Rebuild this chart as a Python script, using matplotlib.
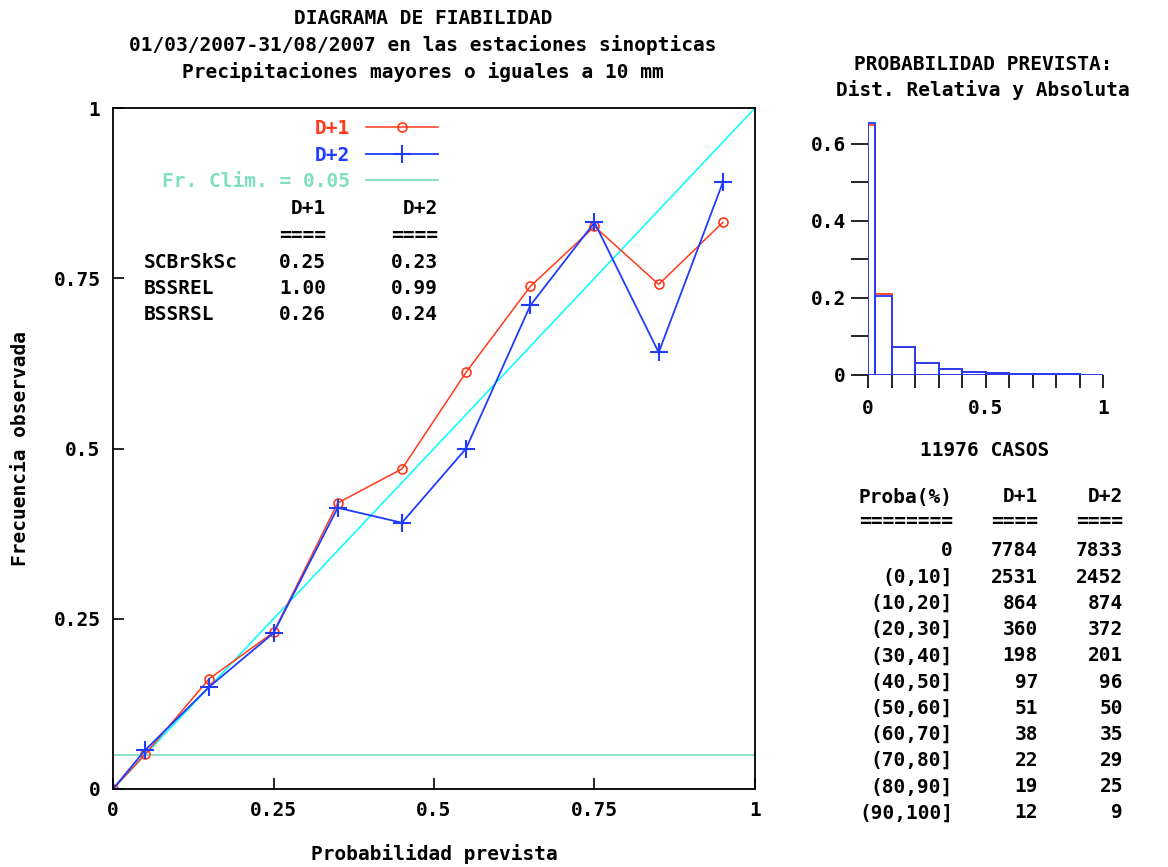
import numpy as np
import matplotlib
matplotlib.use("Agg")
import matplotlib.pyplot as plt
from matplotlib.ticker import MultipleLocator

plt.rcParams['font.family'] = ['DejaVu Sans Mono']
plt.rcParams['font.weight'] = 'bold'
plt.rcParams['axes.labelweight'] = 'bold'

# reliability diagram data
prob_centers = [0, 0.05, 0.15, 0.25, 0.35, 0.45, 0.55, 0.65, 0.75, 0.85, 0.95]
obs_d1 = [0, 0.051, 0.162, 0.23, 0.42, 0.47, 0.612, 0.738, 0.826, 0.741, 0.832]
obs_d2 = [0, 0.057, 0.15, 0.229, 0.413, 0.391, 0.50, 0.71, 0.832, 0.641, 0.891]
clim_freq = 0.05

score_names = ['SCBrSkSc', 'BSSREL', 'BSSRSL']
scores_d1 = ['0.25', '1.00', '0.26']
scores_d2 = ['0.23', '0.99', '0.24']

# forecast distribution
bin_labels = ['0', '(0,10]', '(10,20]', '(20,30]', '(30,40]', '(40,50]',
              '(50,60]', '(60,70]', '(70,80]', '(80,90]', '(90,100]']
bin_edges = [0, 0.03, 0.1, 0.2, 0.3, 0.4, 0.5, 0.6, 0.7, 0.8, 0.9, 1.0]
counts_d1 = [7784, 2531, 864, 360, 198, 97, 51, 38, 22, 19, 12]
counts_d2 = [7833, 2452, 874, 372, 201, 96, 50, 35, 29, 25, 9]
n_cases = 11976

RED = '#ff3a1a'
BLUE = '#1f3cff'
CLIM = '#7fdfc3'
FS = 14

W, H = 1168, 867
fig = plt.figure(figsize=(W / 100, H / 100), dpi=100)


def fx(px):
    return px / W


def fy(py):
    return 1 - py / H


# main reliability axes
ax = fig.add_axes([fx(113), fy(789), fx(755) - fx(113), fy(108) - fy(789)])
ax.plot([0, 1], [0, 1], color='cyan', lw=1.1)
ax.axhline(clim_freq, color=CLIM, lw=1.3, label='Fr. Clim. = %.2f' % clim_freq)
ax.plot(prob_centers, obs_d1, color=RED, lw=1.1, marker='o', ms=6.5,
        mfc='none', mew=1.2, label='D+1')
ax.plot(prob_centers, obs_d2, color=BLUE, lw=1.3, marker='+', ms=13,
        mew=1.5, label='D+2')
ax.set_xlim(0, 1)
ax.set_ylim(0, 1)
ticks = [0, 0.25, 0.5, 0.75, 1]
ax.set_xticks(ticks, ['0', '0.25', '0.5', '0.75', '1'])
ax.set_yticks(ticks, ['0', '0.25', '0.5', '0.75', '1'])
ax.tick_params(direction='in', length=8, width=1.2, labelsize=FS, pad=9)
for s in ax.spines.values():
    s.set_linewidth(1.3)
ax.set_xlabel('Probabilidad prevista', fontsize=FS, labelpad=17)
ax.set_ylabel('Frecuencia observada', fontsize=FS, labelpad=17)

h, l = ax.get_legend_handles_labels()
order = [1, 2, 0]
leg = fig.legend([h[i] for i in order], [l[i] for i in order],
                 loc='upper right', bbox_to_anchor=(fx(438), fy(119)),
                 frameon=False, markerfirst=False, numpoints=1,
                 handlelength=3.7, handletextpad=0.85, labelspacing=0.39,
                 borderpad=0, borderaxespad=0, fontsize=FS,
                 labelcolor='linecolor')

# scores table
for col_x, head in [(326, 'D+1'), (438, 'D+2')]:
    fig.text(fx(col_x), fy(209), head, ha='right', va='center', fontsize=FS)
    fig.text(fx(col_x), fy(235), '====', ha='right', va='center', fontsize=FS)
for i, name in enumerate(score_names):
    y = 263 + 26 * i
    fig.text(fx(144), fy(y), name, ha='left', va='center', fontsize=FS)
    fig.text(fx(326), fy(y), scores_d1[i], ha='right', va='center', fontsize=FS)
    fig.text(fx(438), fy(y), scores_d2[i], ha='right', va='center', fontsize=FS)

# titles
for y, t in [(18, 'DIAGRAMA DE FIABILIDAD'),
             (45, '01/03/2007-31/08/2007 en las estaciones sinopticas'),
             (72, 'Precipitaciones mayores o iguales a 10 mm')]:
    fig.text(fx(423), fy(y), t, ha='center', va='center', fontsize=FS)
fig.text(fx(983), fy(64), 'PROBABILIDAD PREVISTA:', ha='center', va='center', fontsize=FS)
fig.text(fx(983), fy(90), 'Dist. Relativa y Absoluta', ha='center', va='center', fontsize=FS)

# distribution histogram
axh = fig.add_axes([fx(868), fy(375), fx(1103) - fx(868), fy(112) - fy(375)])
lefts = bin_edges[:-1]
widths = np.diff(bin_edges)
axh.bar(lefts, np.array(counts_d1) / n_cases, width=widths, align='edge',
        fill=False, edgecolor=RED, lw=1.3)
axh.bar(lefts, np.array(counts_d2) / n_cases, width=widths, align='edge',
        fill=False, edgecolor=BLUE, lw=1.3)
axh.set_xlim(0, 1)
axh.set_ylim(0, 0.683)
for s in axh.spines.values():
    s.set_visible(False)
axh.xaxis.set_major_locator(MultipleLocator(0.5))
axh.xaxis.set_minor_locator(MultipleLocator(0.1))
axh.set_xticks([0, 0.5, 1], ['0', '0.5', '1'])
axh.yaxis.set_major_locator(MultipleLocator(0.2))
axh.yaxis.set_minor_locator(MultipleLocator(0.1))
axh.set_yticks([0, 0.2, 0.4, 0.6], ['0', '0.2', '0.4', '0.6'])
axh.tick_params(which='both', direction='out', length=9, width=1.2,
                labelsize=FS, pad=8)
axh.tick_params(axis='y', which='both', length=12, pad=4)
fig.text(fx(985), fy(451), '%d CASOS' % n_cases, ha='center', va='center', fontsize=FS)

# counts table
fig.text(fx(953), fy(497), 'Proba(%)', ha='right', va='center', fontsize=FS)
fig.text(fx(953), fy(522), '========', ha='right', va='center', fontsize=FS)
for col_x, head in [(1038, 'D+1'), (1123, 'D+2')]:
    fig.text(fx(col_x), fy(497), head, ha='right', va='center', fontsize=FS)
    fig.text(fx(col_x), fy(522), '====', ha='right', va='center', fontsize=FS)
for i, lab in enumerate(bin_labels):
    y = 551 + 26.2 * i
    fig.text(fx(953), fy(y), lab, ha='right', va='center', fontsize=FS)
    fig.text(fx(1038), fy(y), str(counts_d1[i]), ha='right', va='center', fontsize=FS)
    fig.text(fx(1123), fy(y), str(counts_d2[i]), ha='right', va='center', fontsize=FS)

fig.savefig('out.png', dpi=100)
